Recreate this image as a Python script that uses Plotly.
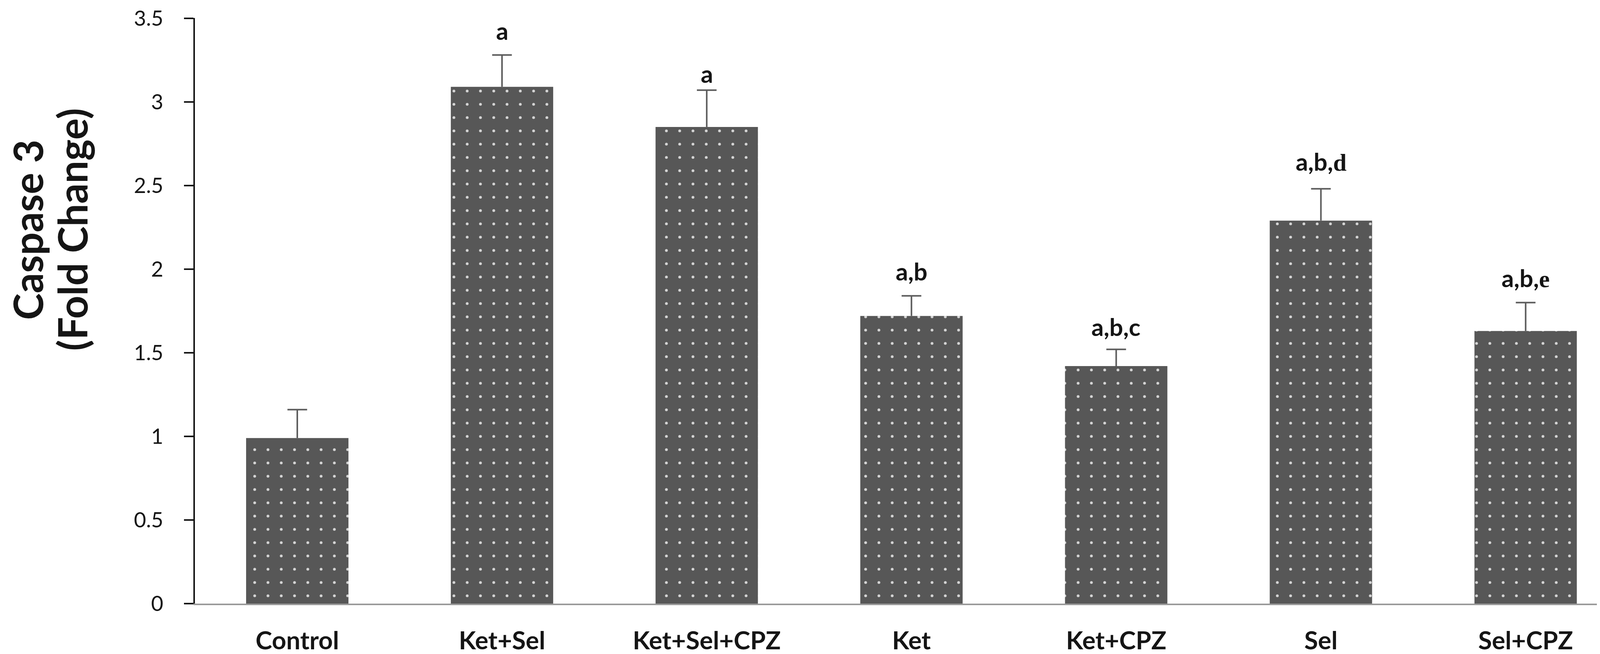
import plotly.graph_objects as go

# ---- data ----
categories = ["Control", "Ket+Sel", "Ket+Sel+CPZ", "Ket", "Ket+CPZ", "Sel", "Sel+CPZ"]
means = [0.99, 3.09, 2.85, 1.72, 1.42, 2.29, 1.63]
sem_plus = [0.17, 0.19, 0.22, 0.12, 0.10, 0.19, 0.17]
sig_labels = ["", "a", "a", "a,b", "a,b,c",
              "a,b,<span style='font-family:Liberation Serif'>d</span>",
              "a,b,<span style='font-family:Liberation Serif'>e</span>"]
y_tickvals = [0, 0.5, 1, 1.5, 2, 2.5, 3, 3.5]
y_ticktext = ["0", "0.5", "1", "1.5", "2", "2.5", "3", "3.5"]

# ---- style ----
W, H = 4143, 1674
ML, MR, MT, MB = 491, 20, 38, 137
FONT = "Lato"
BAR = "#575757"
ERR = "#5c5c5c"
TXT = "#151515"
label_gap_px = [0, 41, 21, 41, 36, 48, 41]   # gap between label baseline and error cap

err_top = [m + e for m, e in zip(means, sem_plus)]

fig = go.Figure()
fig.add_trace(go.Bar(
    x=categories,
    y=means,
    marker=dict(
        color=BAR,
        line=dict(width=0),
        pattern=dict(shape=".", bgcolor=BAR, fgcolor="#d4d4d4",
                     size=34, solidity=0.035, fillmode="replace"),
    ),
    showlegend=False,
    hoverinfo="skip",
))
# upper error bars only: stem via error_y (no caps), cap via a horizontal-line marker
fig.add_trace(go.Scatter(
    x=categories,
    y=err_top,
    mode="markers",
    marker=dict(symbol="line-ew", size=36, color=ERR,
                line=dict(color=ERR, width=4)),
    error_y=dict(type="data", symmetric=False,
                 array=[0] * len(sem_plus), arrayminus=sem_plus,
                 color=ERR, thickness=4, width=0),
    showlegend=False,
    hoverinfo="skip",
))

annotations = []
for cat, top, lab, g in zip(categories, err_top, sig_labels, label_gap_px):
    if not lab:
        continue
    annotations.append(dict(
        x=cat, y=top, xref="x", yref="y",
        text=lab, showarrow=False,
        xanchor="center", yanchor="bottom",
        yshift=g - 17,
        font=dict(family=FONT, size=62, color=TXT, weight="bold"),
    ))

# y-axis title (two lines, rotated)
plot_w = W - ML - MR
plot_h = H - MT - MB
def px_x(px):
    return (px - ML) / plot_w
def px_y(py):
    return (H - MB - py) / plot_h

for txt, cx in (("Caspase 3", 62), ("(Fold Change)", 176)):
    annotations.append(dict(
        x=px_x(cx), y=px_y(580), xref="paper", yref="paper",
        text=txt, showarrow=False, textangle=-90,
        xanchor="center", yanchor="middle",
        font=dict(family=FONT, size=103, color=TXT, weight="bold"),
    ))

fig.update_layout(
    template="none",
    width=W, height=H, autosize=False,
    margin=dict(l=ML, r=MR, t=MT, b=MB, pad=0),
    paper_bgcolor="white", plot_bgcolor="white",
    bargap=0.5,
    annotations=annotations,
    font=dict(family=FONT, color=TXT),
)
fig.update_xaxes(
    type="category",
    automargin=False,
    range=[-0.5, 6.43],
    showline=True, linecolor="#9a9a9a", linewidth=4,
    ticks="", showgrid=False, zeroline=False,
    tickfont=dict(family=FONT, size=64, color=TXT, weight="bold"),
    ticklabelstandoff=36,
)
fig.update_yaxes(
    automargin=False,
    range=[0, 3.5015],
    tickvals=y_tickvals, ticktext=y_ticktext,
    showline=True, linecolor=TXT, linewidth=4,
    ticks="outside", ticklen=24, tickwidth=4, tickcolor=TXT,
    showgrid=False, zeroline=False,
    tickfont=dict(family=FONT, size=54, color=TXT),
    ticklabelstandoff=42,
    ticklabeloverflow="allow",
)

fig.write_html("out.html")
